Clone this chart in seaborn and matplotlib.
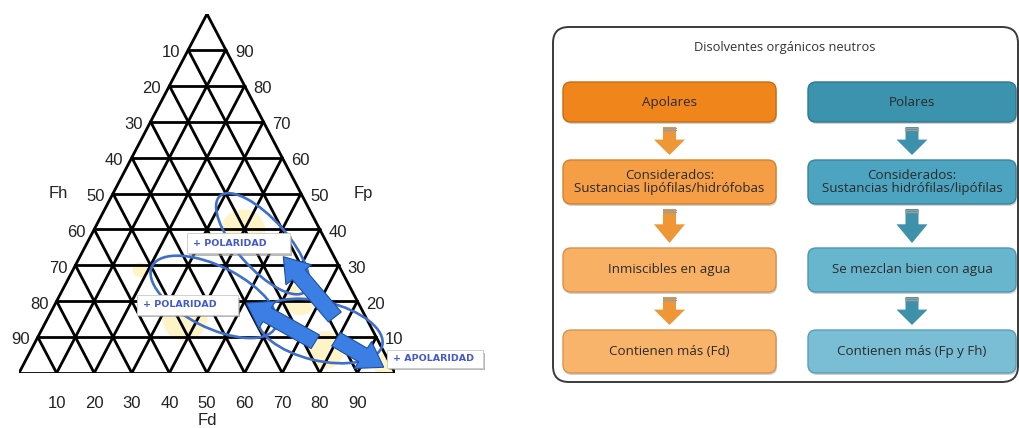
import numpy as np
import pandas as pd
import matplotlib
matplotlib.use("Agg")
import matplotlib.pyplot as plt
import seaborn as sns
from matplotlib.patches import Ellipse, FancyBboxPatch, Polygon, Rectangle, FancyArrow

# ==========================
# Chart content
# ==========================
tick_values = [10, 20, 30, 40, 50, 60, 70, 80, 90]
axis_bottom = "Fd"
axis_left = "Fh"
axis_right = "Fp"

tag_texts = ["+ POLARIDAD", "+ POLARIDAD", "+ APOLARIDAD"]

flow_title = "Disolventes orgánicos neutros"
left_texts = ["Apolares",
              "Considerados:\nSustancias lipófilas/hidrófobas",
              "Inmiscibles en agua",
              "Contienen más (Fd)"]
right_texts = ["Polares",
               "Considerados:\nSustancias hidrófilas/lipófilas",
               "Se mezclan bien con agua",
               "Contienen más (Fp y Fh)"]

# ==========================
# Layout / styles
# ==========================
# overlay geometry in ternary plot units (base 0..100, height 0..100)
ellipse_cx = [64.8, 51.8, 80.1]
ellipse_cy = [36.0, 21.2, 11.7]
ellipse_w = [35, 37, 34]
ellipse_h = [13.5, 17, 16.5]
ellipse_ang = [-50, -28, -14]

arrow_tail = [(84.0, 15.6), (78.8, 8.7), (84.3, 9.4)]
arrow_tip = [(70.3, 32.4), (60.4, 19.5), (97.0, 1.6)]

glow_xy = [(59.6, 39.3), (44.1, 15.3), (74.7, 20.3), (81.4, 6.4), (97.3, 2.2), (32.2, 28.7)]
glow_r = [6, 6, 4, 5, 3, 2]

tag_boxes = [(44.7, 33.4, 27.4, 5.6), (31.4, 16.2, 26.8, 5.5), (97.9, 1.4, 25.5, 5.0)]

left_colors = ["#F0851C", "#F59E45", "#F7B064", "#F8B46A"]
right_colors = ["#3B93AE", "#4CA4C0", "#67B6CE", "#79BED5"]
left_edges = ["#C96A12", "#D3822F", "#D6914C", "#D6944F"]
right_edges = ["#2C7890", "#37849E", "#4D97AF", "#5A9FB6"]
arrow_left_color = "#EF9637"
arrow_right_color = "#3E91AB"

row_top = [82, 160, 248, 330]
row_h = [40, 44, 44, 43]
col_x = [563, 808]
col_w = [213, 208]

sns.set_theme(style="white")
plt.rcParams["font.family"] = ["Liberation Sans", "DejaVu Sans"]

fig = plt.figure(figsize=(10.2, 4.28), dpi=100)
fig.patch.set_facecolor("white")

# ===============================================
# Right panel: flow chart (pixel coordinates)
# ===============================================
axf = fig.add_axes([0, 0, 1, 1])
axf.set_xlim(0, 1020)
axf.set_ylim(428, 0)
axf.axis("off")

frame = FancyBboxPatch((553, 27), 465, 355,
                       boxstyle="round,pad=0,rounding_size=16",
                       facecolor="white", edgecolor="#3a3a3a", linewidth=1.4)
axf.add_patch(frame)
axf.text(785, 47, flow_title, ha="center", va="center",
         fontsize=9.3, color="#333333", family=["Open Sans", "DejaVu Sans"])

for c in range(2):
    texts = left_texts if c == 0 else right_texts
    fills = left_colors if c == 0 else right_colors
    edges = left_edges if c == 0 else right_edges
    acol = arrow_left_color if c == 0 else arrow_right_color
    x0, w = col_x[c], col_w[c]
    cx = x0 + w / 2
    for r in range(4):
        y0, h = row_top[r], row_h[r]
        shadow = FancyBboxPatch((x0 + 1, y0 + 2), w, h,
                                boxstyle="round,pad=0,rounding_size=8",
                                facecolor="#9a9a9a", edgecolor="none", alpha=0.45)
        axf.add_patch(shadow)
        box = FancyBboxPatch((x0, y0), w, h,
                             boxstyle="round,pad=0,rounding_size=8",
                             facecolor=fills[r], edgecolor=edges[r], linewidth=1.0)
        axf.add_patch(box)
        axf.text(cx, y0 + h / 2, texts[r], ha="center", va="center",
                 fontsize=9.6, color="#2b2b2b", linespacing=1.05,
                 family=["Open Sans", "DejaVu Sans"])
        # down arrow to next box
        if r < 3:
            a_top = y0 + h + 5
            a_bot = row_top[r + 1] - 5
            a_mid = a_top + (a_bot - a_top) * 0.45
            pts = [(cx - 6.5, a_top), (cx + 6.5, a_top), (cx + 6.5, a_mid),
                   (cx + 15.5, a_mid), (cx, a_bot), (cx - 15.5, a_mid),
                   (cx - 6.5, a_mid)]
            axf.add_patch(Polygon(pts, closed=True, facecolor=acol,
                                  edgecolor="none"))
            for dy in (1.2, 3.4):
                axf.plot([cx - 6.5, cx + 6.5], [a_top + dy, a_top + dy],
                         color="#9c9c9c", linewidth=1.0)

# ===============================================
# Left panel: ternary grid
# ===============================================
axt = fig.add_axes([19 / 1020, (428 - 373) / 428, 376 / 1020, 359 / 428])
axt.set_xlim(0, 100)
axt.set_ylim(0, 100)
axt.axis("off")
axt.patch.set_alpha(0)

# soft yellow glow behind the grid
for (gx, gy), gr in zip(glow_xy, glow_r):
    axt.add_patch(Ellipse((gx, gy), 2 * gr, 2 * gr * 1.05, facecolor="#FFF1B5",
                          edgecolor="none", alpha=0.75, zorder=0))

segments = []
seg_id = 0
for k in range(10):
    # horizontal lines
    segments += [(seg_id, 5 * k, 10 * k), (seg_id, 100 - 5 * k, 10 * k)]
    seg_id += 1
    # lines parallel to left edge
    segments += [(seg_id, 10 * k, 0), (seg_id, 50 + 5 * k, 100 - 10 * k)]
    seg_id += 1
for k in range(1, 11):
    # lines parallel to right edge
    segments += [(seg_id, 10 * k, 0), (seg_id, 5 * k, 10 * k)]
    seg_id += 1
segments += [(seg_id, 100, 0), (seg_id, 102, 0)]
grid_df = pd.DataFrame(segments, columns=["seg", "x", "y"])

sns.lineplot(data=grid_df, x="x", y="y", units="seg", estimator=None,
             sort=False, color="black", linewidth=2.0, ax=axt, zorder=2,
             legend=False)
axt.set_xlabel("")
axt.set_ylabel("")

# tick labels
for v in tick_values:
    axt.text(v, -8.4, str(v), ha="center", va="center", fontsize=12, color="#222222",
             clip_on=False)
    yl = 100 - v
    axt.text(yl / 2 - 2.2, yl - 0.8, str(v), ha="right", va="center", fontsize=12,
             color="#222222", clip_on=False)
    axt.text(100 - v / 2 + 2.4, v - 0.8, str(v), ha="left", va="center", fontsize=12,
             color="#222222", clip_on=False)
axt.text(50, -13.3, axis_bottom, ha="center", va="center", fontsize=12, color="#222222",
         clip_on=False)
axt.text(10.4, 50.1, axis_left, ha="center", va="center", fontsize=12, color="#222222",
         clip_on=False)
axt.text(91.5, 50.1, axis_right, ha="center", va="center", fontsize=12, color="#222222",
         clip_on=False)

# blue loops
for cx, cy, w, h, ang in zip(ellipse_cx, ellipse_cy, ellipse_w, ellipse_h, ellipse_ang):
    axt.add_patch(Ellipse((cx, cy), w, h, angle=ang, facecolor="none",
                          edgecolor="#3F6FCB", linewidth=1.9, zorder=3, clip_on=False))

# tag boxes
for (bx, by, bw, bh), t in zip(tag_boxes, tag_texts):
    axt.add_patch(Rectangle((bx + 0.6, by - 0.7), bw, bh, facecolor="#8d8d8d",
                            edgecolor="none", alpha=0.6, zorder=4, clip_on=False))
    axt.add_patch(Rectangle((bx, by), bw, bh, facecolor="white",
                            edgecolor="#c9c9c9", linewidth=0.6, zorder=5, clip_on=False))
    axt.text(bx + 1.6, by + bh / 2, t, ha="left", va="center", fontsize=6.8,
             fontweight="bold", color="#4458CF", zorder=6, clip_on=False,
             family=["DejaVu Sans"])

# fat blue arrows
for (tx, ty), (hx, hy) in zip(arrow_tail, arrow_tip):
    axt.add_patch(FancyArrow(tx, ty, hx - tx, hy - ty, width=4.4, head_width=8.8,
                             head_length=6.5, length_includes_head=True,
                             facecolor="#3B7FE4", edgecolor="#1F4FA3",
                             linewidth=0.8, zorder=7, clip_on=False))

plt.savefig("out.png", dpi=100, facecolor="white")
plt.close()
